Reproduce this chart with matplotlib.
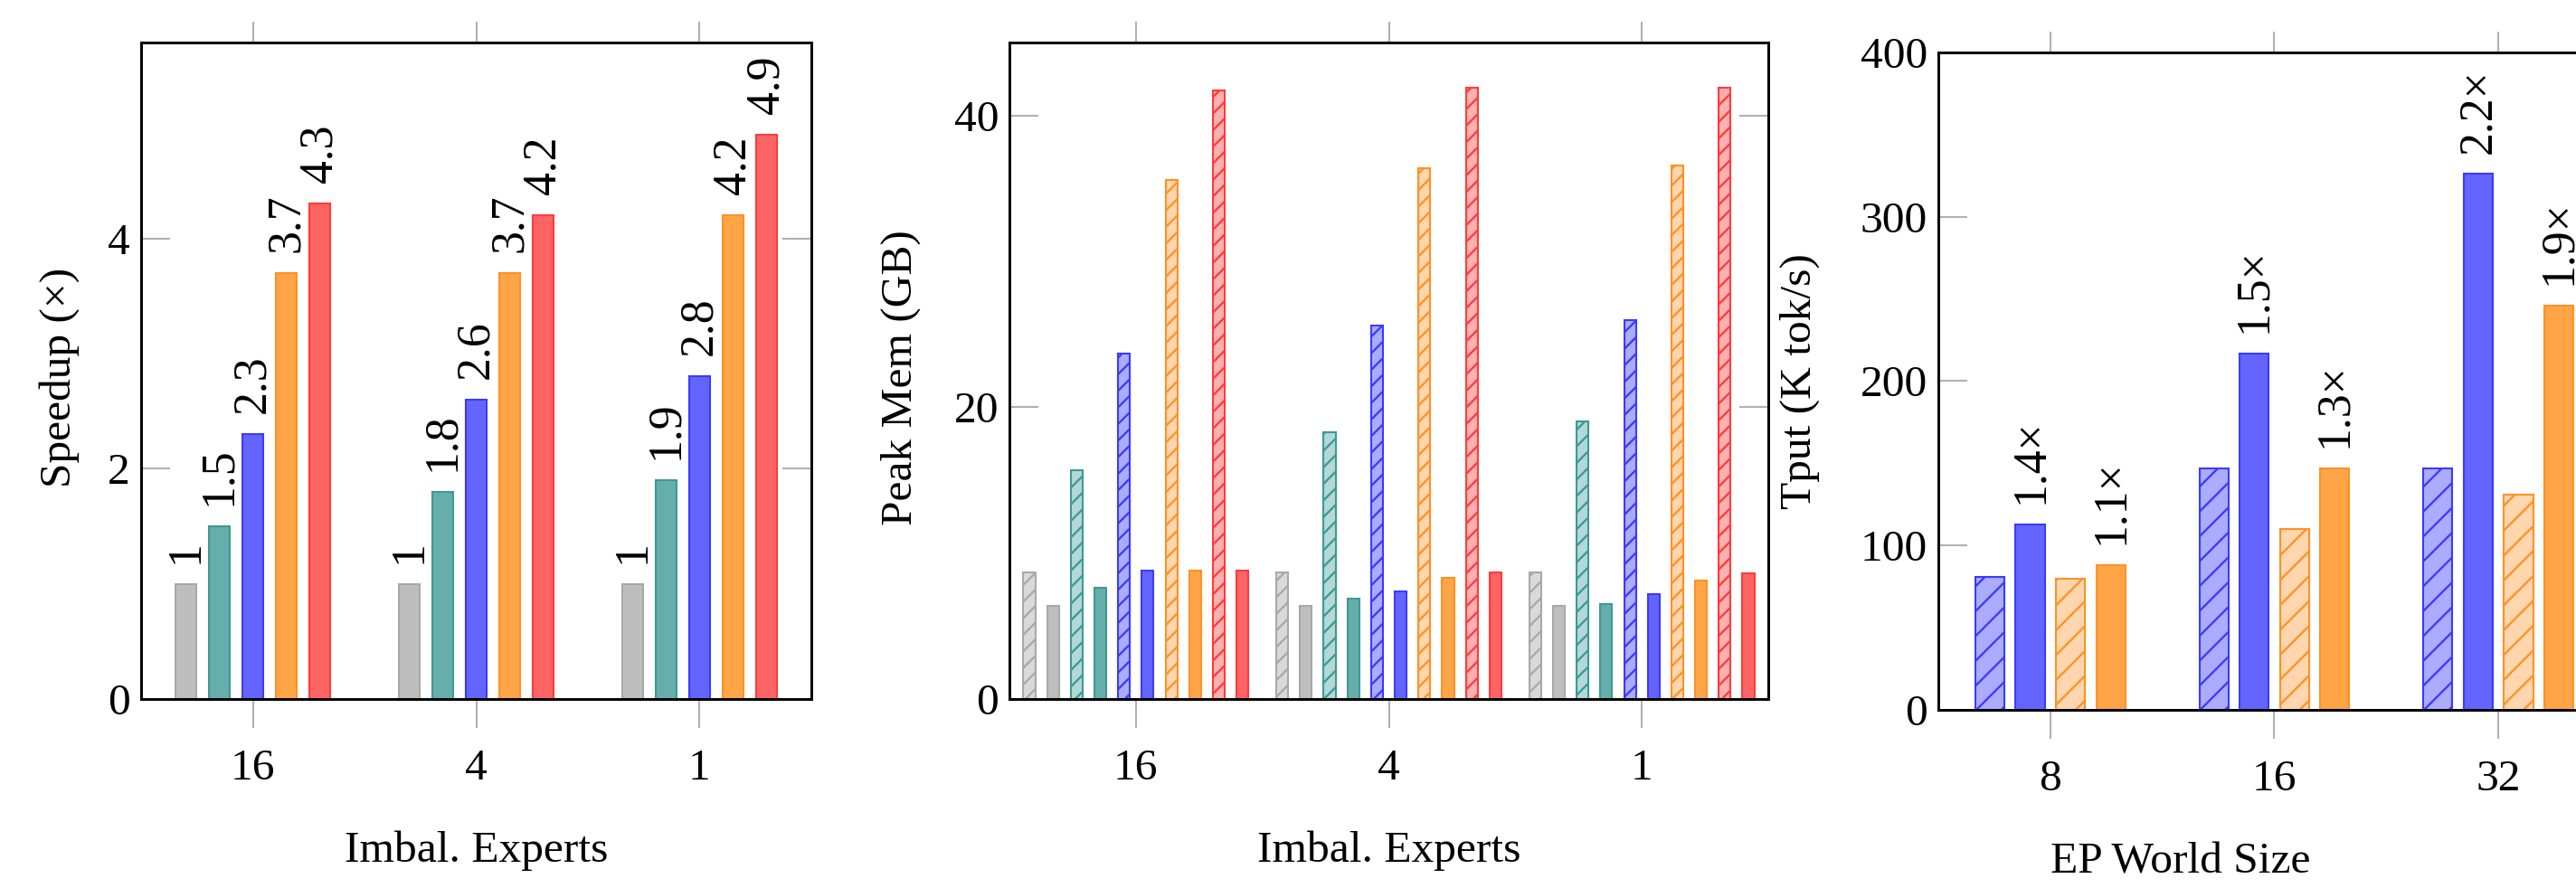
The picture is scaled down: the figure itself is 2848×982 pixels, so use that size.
import matplotlib
matplotlib.use("Agg")
import matplotlib.pyplot as plt
import numpy as np

plt.rcParams['font.family'] = ['Liberation Serif', 'DejaVu Serif']
plt.rcParams['hatch.linewidth'] = 0.5

# panel 1: speedup per imbalanced-expert count
imbal_groups = ["16", "4", "1"]
speedup_gray = [1, 1, 1]
speedup_teal = [1.5, 1.8, 1.9]
speedup_blue = [2.3, 2.6, 2.8]
speedup_orange = [3.7, 3.7, 4.2]
speedup_red = [4.3, 4.2, 4.9]

# panel 2: peak memory, hatched (h) and solid (s) bar per colour
mem_gray_h = [8.7, 8.7, 8.7]
mem_gray_s = [6.4, 6.4, 6.4]
mem_teal_h = [15.7, 18.3, 19.0]
mem_teal_s = [7.6, 6.9, 6.5]
mem_blue_h = [23.7, 25.6, 26.0]
mem_blue_s = [8.8, 7.4, 7.2]
mem_orange_h = [35.6, 36.4, 36.6]
mem_orange_s = [8.8, 8.3, 8.1]
mem_red_h = [41.7, 41.9, 41.9]
mem_red_s = [8.8, 8.7, 8.6]

# panel 3: throughput vs EP world size
ep_sizes = ["8", "16", "32"]
tput_blue_h = [81, 147, 147]
tput_blue_s = [113, 217, 326]
tput_orange_h = [80, 110, 131]
tput_orange_s = [88, 147, 246]
tput_blue_labels = ["1.4×", "1.5×", "2.2×"]
tput_orange_labels = ["1.1×", "1.3×", "1.9×"]

solid = {
    'gray': ('#bebebe', '#a8a8a8'),
    'teal': ('#66aeab', '#3d9995'),
    'blue': ('#6464ff', '#3a3aff'),
    'orange': ('#ffa447', '#ff9124'),
    'red': ('#ff6464', '#ff3b3b'),
}
light = {
    'gray': '#d9d9d9',
    'teal': '#b2d8d7',
    'blue': '#ababff',
    'orange': '#ffd6ad',
    'red': '#ffb0b0',
}

DPI = 330
W, H = 2848, 982
fig = plt.figure(figsize=(W / DPI, H / DPI), dpi=DPI)

FS = 10.8
TICK_GRAY = '#b0b0b0'


def style_axes(ax, cats, yticks, ylim):
    ax.set_xlim(-0.5, len(cats) - 0.5)
    ax.set_ylim(*ylim)
    ax.set_xticks(np.arange(len(cats)))
    ax.set_xticklabels(cats)
    ax.set_yticks(yticks)
    for s in ax.spines.values():
        s.set_linewidth(0.65)
        s.set_zorder(5)
    ax.tick_params(axis='x', direction='out', length=7, width=0.45,
                   color=TICK_GRAY, top=True, labelsize=FS, pad=5)
    ax.tick_params(axis='y', direction='in', length=7, width=0.45,
                   color=TICK_GRAY, left=True, right=True, labelsize=FS, pad=2.6)
    # top ticks are a bit shorter in the original
    for t in ax.xaxis.get_major_ticks():
        t.tick2line.set_markersize(5)


def bar_label(ax, x, y, txt):
    ax.annotate(txt, (x, y), xytext=(0, 5), textcoords='offset points',
                rotation=90, ha='center', va='bottom', fontsize=11.3,
                annotation_clip=False)


# ---------- panel 1 ----------
ax1 = fig.add_axes([156 / W, 1 - 773 / H, 741 / W, 726 / H])
x = np.arange(len(imbal_groups))
series1 = [('gray', speedup_gray), ('teal', speedup_teal), ('blue', speedup_blue),
           ('orange', speedup_orange), ('red', speedup_red)]
for i, (c, vals) in enumerate(series1):
    pos = x + (i - 2) * 0.15
    ax1.bar(pos, vals, width=0.093, color=solid[c][0], edgecolor=solid[c][1],
            linewidth=0.45, zorder=3)
    for px, v in zip(pos, vals):
        bar_label(ax1, px, v, f"{v:g}")
style_axes(ax1, imbal_groups, [0, 2, 4], (0, 5.7))
ax1.set_ylabel('Speedup (×)', fontsize=FS)
ax1.yaxis.set_label_coords(-0.092, 0.49)
ax1.set_xlabel('Imbal. Experts', fontsize=FS)
ax1.xaxis.set_label_coords(0.5, -0.201)

# ---------- panel 2 ----------
ax2 = fig.add_axes([1116 / W, 1 - 773 / H, 839 / W, 726 / H])
series2 = [('gray', mem_gray_h, mem_gray_s), ('teal', mem_teal_h, mem_teal_s),
           ('blue', mem_blue_h, mem_blue_s), ('orange', mem_orange_h, mem_orange_s),
           ('red', mem_red_h, mem_red_s)]
k = 0
for c, hv, sv in series2:
    ax2.bar(x + (k - 4.5) * 0.0936, hv, width=0.047, color=light[c],
            edgecolor=solid[c][1], linewidth=0.45, hatch='//////', zorder=3)
    k += 1
    ax2.bar(x + (k - 4.5) * 0.0936, sv, width=0.047, color=solid[c][0],
            edgecolor=solid[c][1], linewidth=0.45, zorder=3)
    k += 1
style_axes(ax2, imbal_groups, [0, 20, 40], (0, 45))
ax2.set_ylabel('Peak Mem (GB)', fontsize=FS)
ax2.yaxis.set_label_coords(-0.117, 0.49)
ax2.set_xlabel('Imbal. Experts', fontsize=FS)
ax2.xaxis.set_label_coords(0.5, -0.201)

# ---------- panel 3 (cut off on the right) ----------
ax3 = fig.add_axes([2143 / W, 1 - 785 / H, 743 / W, 727 / H])
x3 = np.arange(len(ep_sizes))
ax3.bar(x3 - 1.5 * 0.18, tput_blue_h, width=0.13, color=light['blue'],
        edgecolor=solid['blue'][1], linewidth=0.45, hatch='////', zorder=3)
ax3.bar(x3 - 0.5 * 0.18, tput_blue_s, width=0.13, color=solid['blue'][0],
        edgecolor=solid['blue'][1], linewidth=0.45, zorder=3)
ax3.bar(x3 + 0.5 * 0.18, tput_orange_h, width=0.13, color=light['orange'],
        edgecolor=solid['orange'][1], linewidth=0.45, hatch='////', zorder=3)
ax3.bar(x3 + 1.5 * 0.18, tput_orange_s, width=0.13, color=solid['orange'][0],
        edgecolor=solid['orange'][1], linewidth=0.45, zorder=3)
for i in range(len(ep_sizes)):
    bar_label(ax3, x3[i] - 0.5 * 0.18, tput_blue_s[i], tput_blue_labels[i])
    bar_label(ax3, x3[i] + 1.5 * 0.18, tput_orange_s[i], tput_orange_labels[i])
style_axes(ax3, ep_sizes, [0, 100, 200, 300, 400], (0, 400))
ax3.set_ylabel('Tput (K tok/s)', fontsize=FS)
ax3.yaxis.set_label_coords(-0.176, 0.5)
ax3.set_xlabel('EP World Size', fontsize=FS)
ax3.xaxis.set_label_coords(0.36, -0.202)

fig.savefig('out.png', dpi=DPI)
